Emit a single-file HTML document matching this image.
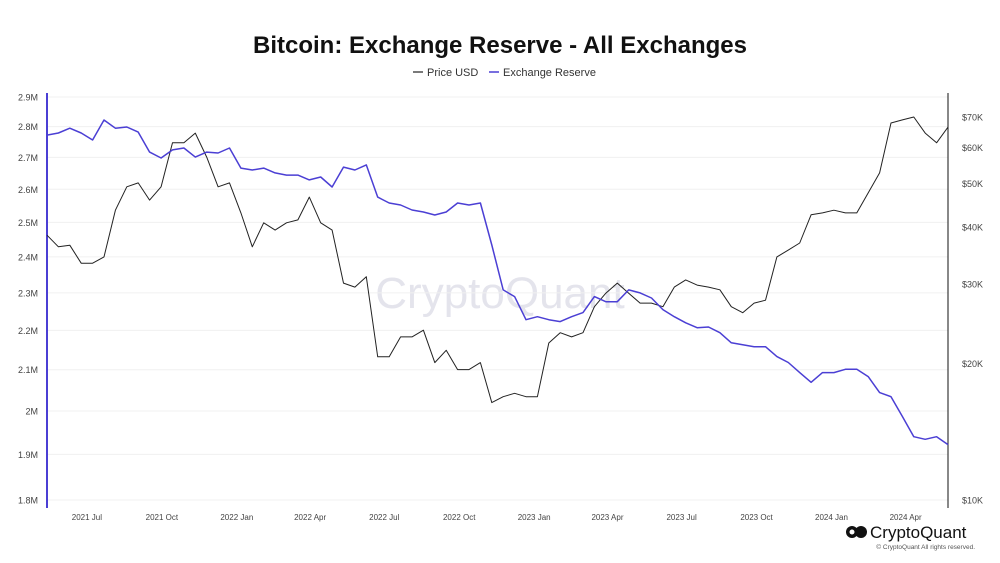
<!DOCTYPE html>
<html><head><meta charset="utf-8"><style>
body{margin:0;background:#fff;font-family:"Liberation Sans",sans-serif}
#wrap{position:relative;width:1000px;height:563px;overflow:hidden}
</style></head><body>
<div id="wrap">
<svg id="c" width="1000" height="563" viewBox="0 0 1000 563">
<text x="500" y="53" text-anchor="middle" font-size="24" font-weight="bold" fill="#111">Bitcoin: Exchange Reserve - All Exchanges</text>
<g>
<g><line x1="413" y1="72" x2="423" y2="72" stroke="#222" stroke-width="1.2"/><text x="427" y="76" font-size="11" fill="#333">Price USD</text></g>
<g><line x1="489" y1="72" x2="499" y2="72" stroke="#4b3fd4" stroke-width="1.5"/><text x="503" y="76" font-size="11" fill="#333">Exchange Reserve</text></g>
</g>
<text x="500" y="308" text-anchor="middle" font-size="44" fill="#e4e4ec">CryptoQuant</text>
<g id="grid"></g><g id="axes"></g><g id="series"></g>
<g>
<circle cx="852" cy="532" r="6" fill="#111"/><circle cx="861" cy="532" r="6" fill="#111"/><circle cx="852" cy="532" r="2.5" fill="#fff"/>
<text x="870" y="538" font-size="17" fill="#111">CryptoQuant</text>
<text x="975" y="549" text-anchor="end" font-size="6.5" fill="#555">© CryptoQuant All rights reserved.</text>
</g>
</svg></div>
<script>
const startDate="2021-05-13";
const stepDays=14;
const priceUSD=[38.4,36.2,36.5,33.3,33.3,34.4,43.6,49.1,50.1,45.9,49.1,61.4,61.4,64.5,57.1,49.1,50.1,43.0,36.2,40.9,39.4,40.9,41.5,46.6,40.9,39.4,30.1,29.5,31.1,20.7,20.7,22.9,22.9,23.7,20.1,21.4,19.4,19.4,20.1,16.4,16.9,17.2,16.9,16.9,22.2,23.4,22.9,23.4,26.7,28.6,30.1,28.6,27.2,27.2,26.7,29.5,30.6,29.8,29.5,29.1,26.7,25.9,27.2,27.6,34.4,35.6,36.9,42.6,43.0,43.6,43.0,43.0,47.6,52.7,67.9,69.0,70.0,64.5,61.4,66.5];
const reserveBTC=[2.772,2.779,2.795,2.779,2.756,2.822,2.795,2.799,2.782,2.717,2.698,2.724,2.730,2.701,2.717,2.714,2.730,2.666,2.660,2.666,2.651,2.644,2.644,2.629,2.638,2.607,2.669,2.660,2.676,2.576,2.558,2.552,2.537,2.531,2.522,2.531,2.558,2.552,2.558,2.434,2.308,2.290,2.228,2.236,2.228,2.223,2.236,2.247,2.290,2.276,2.276,2.308,2.300,2.286,2.255,2.236,2.220,2.207,2.209,2.194,2.168,2.163,2.158,2.158,2.133,2.118,2.093,2.069,2.093,2.093,2.101,2.101,2.083,2.044,2.034,1.987,1.940,1.934,1.940,1.922];
const leftTicks=[2.9,2.8,2.7,2.6,2.5,2.4,2.3,2.2,2.1,2.0,1.9,1.8];
const leftTickLabels=["2.9M","2.8M","2.7M","2.6M","2.5M","2.4M","2.3M","2.2M","2.1M","2M","1.9M","1.8M"];
const rightTicks=[70,60,50,40,30,20,10];
const rightTickLabels=["$70K","$60K","$50K","$40K","$30K","$20K","$10K"];
const xTickDates=["2021-07-01","2021-10-01","2022-01-01","2022-04-01","2022-07-01","2022-10-01","2023-01-01","2023-04-01","2023-07-01","2023-10-01","2024-01-01","2024-04-01"];
const xTickLabels=["2021 Jul","2021 Oct","2022 Jan","2022 Apr","2022 Jul","2022 Oct","2023 Jan","2023 Apr","2023 Jul","2023 Oct","2024 Jan","2024 Apr"];

const NS="http://www.w3.org/2000/svg";
const X0=47,X1=948,Y0=97,Y1=500;
const t0=Date.parse(startDate), t1=t0+79*stepDays*864e5;
function xs(t){return X0+(t-t0)/(t1-t0)*(X1-X0);}
function yl(v){return Y0+(Math.log(2.9)-Math.log(v))/(Math.log(2.9)-Math.log(1.8))*(Y1-Y0);}
function yr(v){return Y1-Math.log(v/10)/Math.log(77.5/10)*(Y1-Y0);}
function mk(tag,attrs,parent){const e=document.createElementNS(NS,tag);for(const k in attrs)e.setAttribute(k,attrs[k]);parent.appendChild(e);return e;}
const grid=document.getElementById('grid'),axes=document.getElementById('axes'),series=document.getElementById('series');
leftTicks.forEach((v,i)=>{
  const y=yl(v);
  const g=mk('line',{x1:X0,x2:X1,y1:y,y2:y,stroke:'#f0f0f0','stroke-width':1},grid);
  
  
  const t=mk('text',{x:38,y:y+3.5,'text-anchor':'end','font-size':9,fill:'#444'},axes);
  t.textContent=leftTickLabels[i];
  
  
});
rightTicks.forEach((v,i)=>{
  const y=yr(v);
  const t=mk('text',{x:962,y:y+3.5,'font-size':9,fill:'#444'},axes);
  t.textContent=rightTickLabels[i];
  
  
});
xTickDates.forEach((d,i)=>{
  const x=xs(Date.parse(d));
  const t=mk('text',{x:x,y:520,'text-anchor':'middle','font-size':8,fill:'#444'},axes);
  t.textContent=xTickLabels[i];
  
  
});
const la=mk('line',{x1:X0,x2:X0,y1:93,y2:508,stroke:'#4b3fd4','stroke-width':2},axes);


const ra=mk('line',{x1:X1,x2:X1,y1:93,y2:508,stroke:'#111','stroke-width':1},axes);


function path(vals,yf){return vals.map((v,i)=>(i?'L':'M')+xs(t0+i*stepDays*864e5).toFixed(1)+','+yf(v).toFixed(1)).join('');}
const pp=mk('path',{d:path(priceUSD,yr),fill:'none',stroke:'#222','stroke-width':1,'stroke-linejoin':'round'},series);


const rp=mk('path',{d:path(reserveBTC,yl),fill:'none',stroke:'#4b3fd4','stroke-width':1.5,'stroke-linejoin':'round'},series);


</script>
</body></html>
